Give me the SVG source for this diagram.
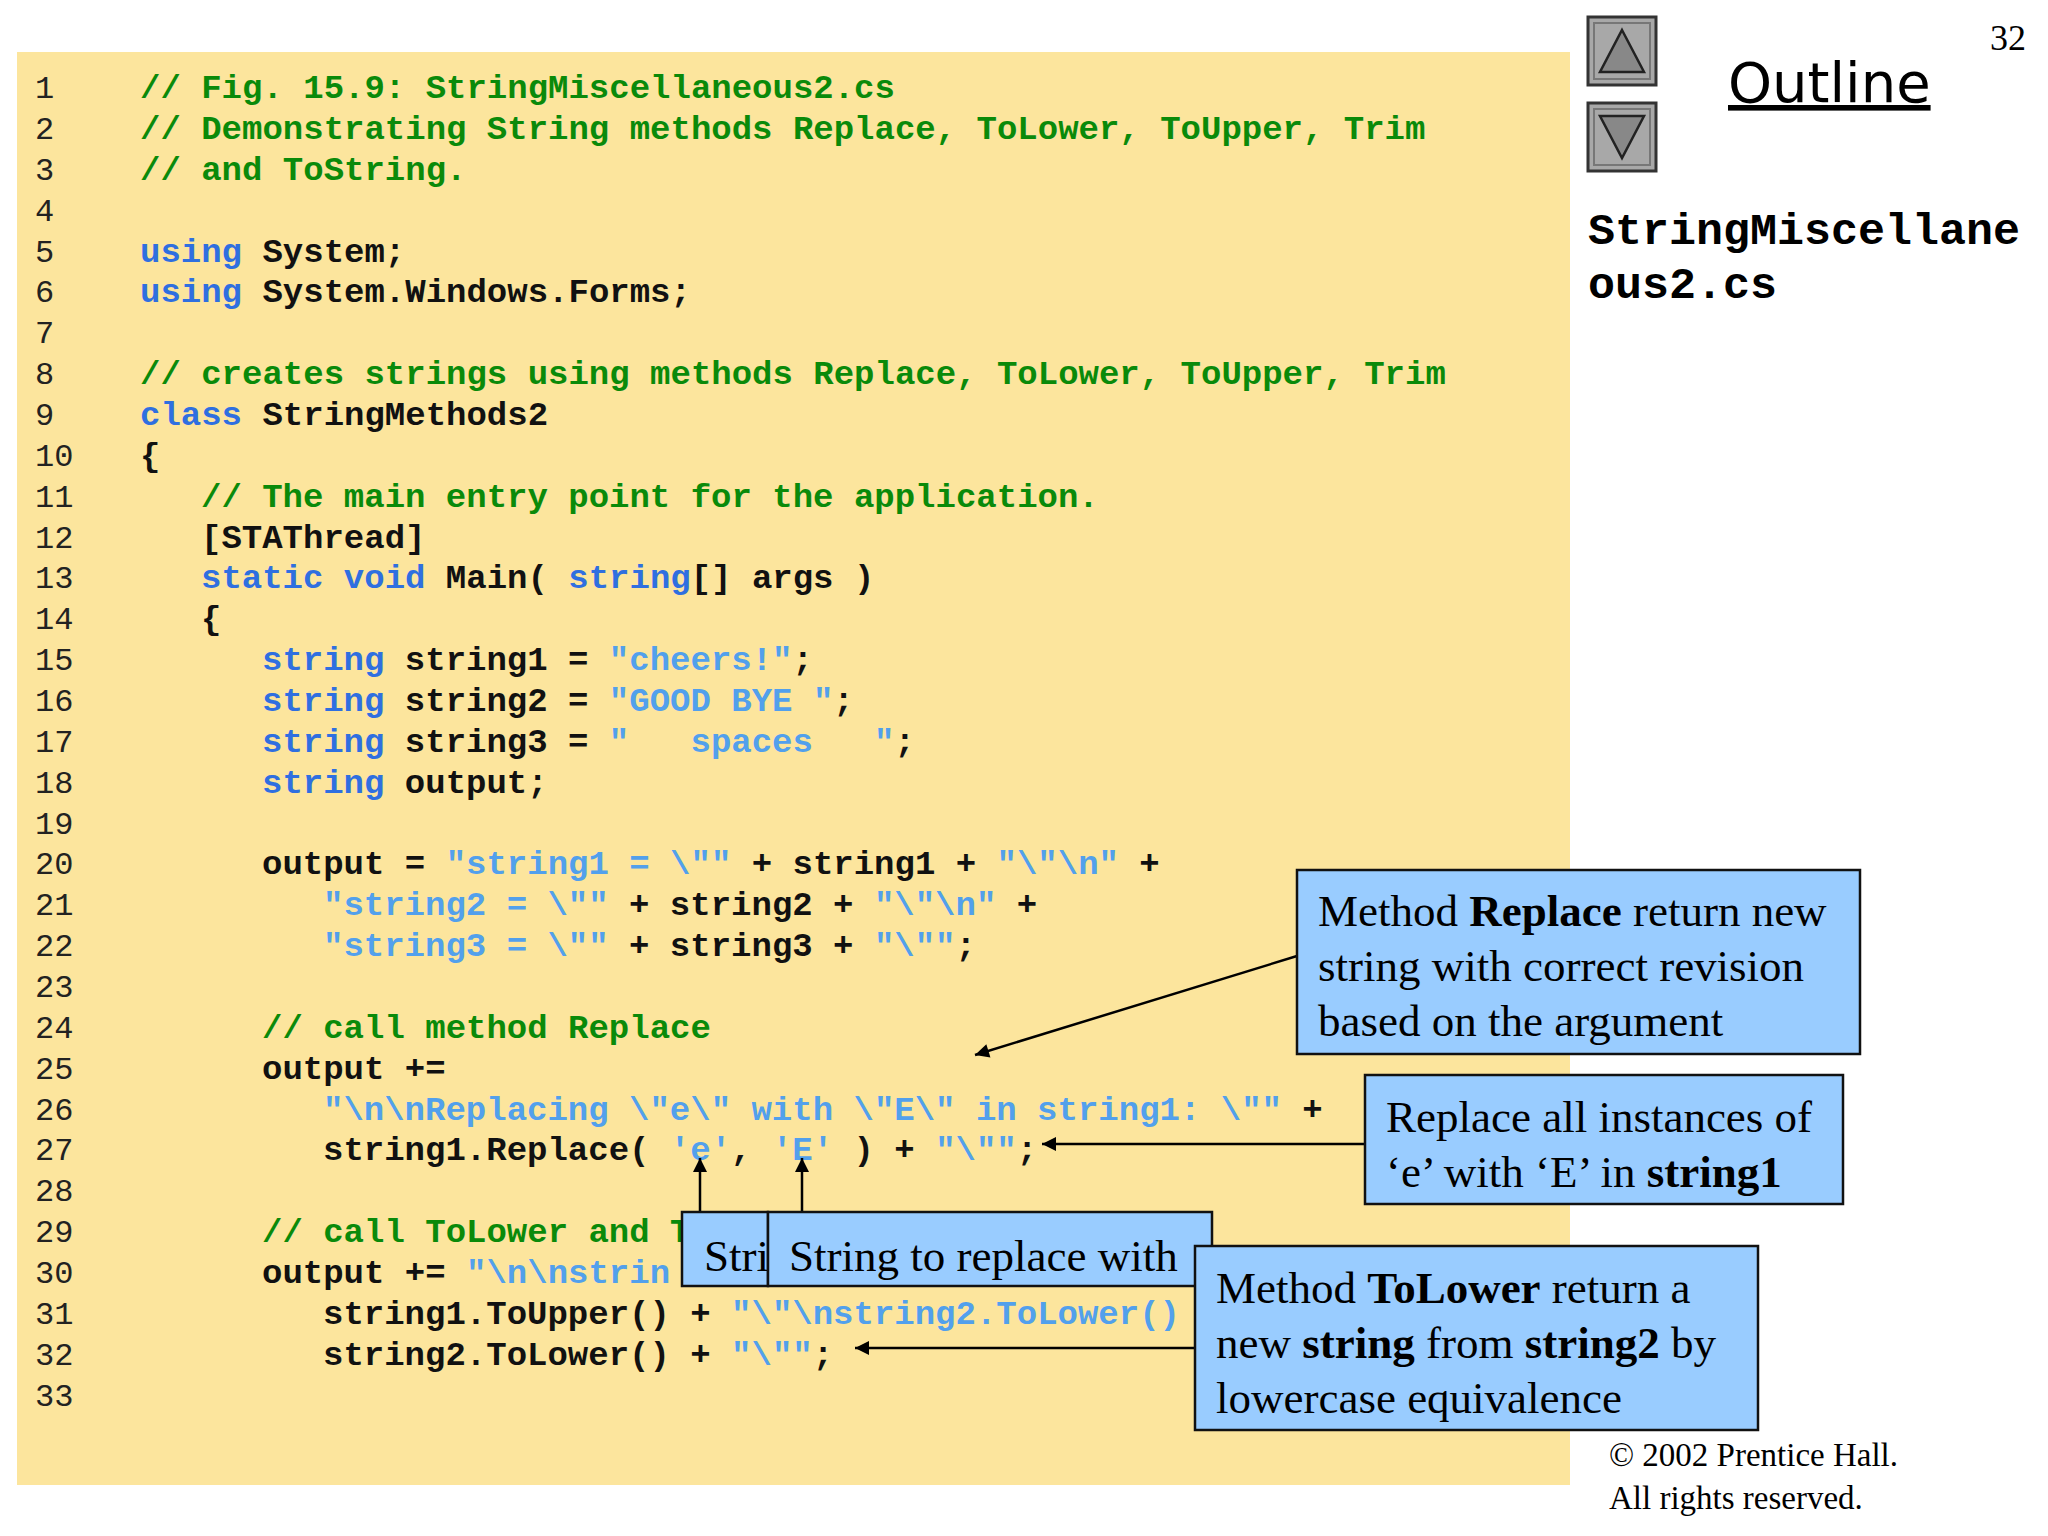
<svg xmlns="http://www.w3.org/2000/svg" width="2048" height="1536" viewBox="0 0 2048 1536" xml:space="preserve">
<style>
.code{font-family:"Liberation Mono","Courier New",monospace;font-size:34px;font-weight:bold;fill:#111;white-space:pre}
.ln{font-family:"Liberation Mono","Courier New",monospace;font-size:32px;fill:#222}
.c{fill:#0A8A0A}.k{fill:#2F6FE0}.s{fill:#52A0EC}
.box{fill:#99CCFF;stroke:#111;stroke-width:2.5}
.ct{font-family:"Liberation Serif","Times New Roman",serif;font-size:45px;fill:#000}
.cn{stroke:#000;stroke-width:2.5;fill:none;marker-end:url(#ah)}
</style>
<defs><marker id="ah" viewBox="0 0 10 10" refX="10" refY="5" markerWidth="7" markerHeight="7" orient="auto" markerUnits="userSpaceOnUse" style="overflow:visible"><path d="M0,0 L10,5 L0,10 z" fill="#000" transform="scale(2) translate(-5,-2.5)"/></marker></defs>
<rect width="2048" height="1536" fill="#fff"/>
<rect x="17" y="52" width="1553" height="1433" fill="#FCE59D"/>
<g id="linenumbers" class="ln">
<text x="35" y="98">1</text><text x="35" y="139">2</text><text x="35" y="180">3</text><text x="35" y="221">4</text><text x="35" y="262">5</text><text x="35" y="302">6</text><text x="35" y="343">7</text><text x="35" y="384">8</text><text x="35" y="425">9</text><text x="35" y="466">10</text><text x="35" y="507">11</text><text x="35" y="548">12</text><text x="35" y="588">13</text><text x="35" y="629">14</text><text x="35" y="670">15</text><text x="35" y="711">16</text><text x="35" y="752">17</text><text x="35" y="793">18</text><text x="35" y="834">19</text><text x="35" y="874">20</text><text x="35" y="915">21</text><text x="35" y="956">22</text><text x="35" y="997">23</text><text x="35" y="1038">24</text><text x="35" y="1079">25</text><text x="35" y="1120">26</text><text x="35" y="1160">27</text><text x="35" y="1201">28</text><text x="35" y="1242">29</text><text x="35" y="1283">30</text><text x="35" y="1324">31</text><text x="35" y="1365">32</text><text x="35" y="1406">33</text>
</g>
<g id="code" class="code">
<text x="140" y="98"><tspan class="c">// Fig. 15.9: StringMiscellaneous2.cs</tspan></text>
<text x="140" y="139"><tspan class="c">// Demonstrating String methods Replace, ToLower, ToUpper, Trim</tspan></text>
<text x="140" y="180"><tspan class="c">// and ToString.</tspan></text>
<text x="140" y="262"><tspan class="k">using</tspan> System;</text>
<text x="140" y="302"><tspan class="k">using</tspan> System.Windows.Forms;</text>
<text x="140" y="384"><tspan class="c">// creates strings using methods Replace, ToLower, ToUpper, Trim</tspan></text>
<text x="140" y="425"><tspan class="k">class</tspan> StringMethods2</text>
<text x="140" y="466">{</text>
<text x="201" y="507"><tspan class="c">// The main entry point for the application.</tspan></text>
<text x="201" y="548">[STAThread]</text>
<text x="201" y="588"><tspan class="k">static void</tspan> Main( <tspan class="k">string</tspan>[] args )</text>
<text x="201" y="629">{</text>
<text x="262" y="670"><tspan class="k">string</tspan> string1 = <tspan class="s">"cheers!"</tspan>;</text>
<text x="262" y="711"><tspan class="k">string</tspan> string2 = <tspan class="s">"GOOD BYE "</tspan>;</text>
<text x="262" y="752"><tspan class="k">string</tspan> string3 = <tspan class="s">"&#160;&#160;&#160;spaces&#160;&#160;&#160;"</tspan>;</text>
<text x="262" y="793"><tspan class="k">string</tspan> output;</text>
<text x="262" y="874">output = <tspan class="s">"string1 = \""</tspan> + string1 + <tspan class="s">"\"\n"</tspan> +</text>
<text x="323" y="915"><tspan class="s">"string2 = \""</tspan> + string2 + <tspan class="s">"\"\n"</tspan> +</text>
<text x="323" y="956"><tspan class="s">"string3 = \""</tspan> + string3 + <tspan class="s">"\""</tspan>;</text>
<text x="262" y="1038"><tspan class="c">// call method Replace</tspan></text>
<text x="262" y="1079">output +=</text>
<text x="323" y="1120"><tspan class="s">"\n\nReplacing \"e\" with \"E\" in string1: \""</tspan> +</text>
<text x="323" y="1160">string1.Replace( <tspan class="s">'e'</tspan>, <tspan class="s">'E'</tspan> ) + <tspan class="s">"\""</tspan>;</text>
<text x="262" y="1242"><tspan class="c">// call ToLower and T</tspan></text>
<text x="262" y="1283">output += <tspan class="s">"\n\nstrin</tspan></text>
<text x="323" y="1324">string1.ToUpper() + <tspan class="s">"\"\nstring2.ToLower()</tspan></text>
<text x="323" y="1365">string2.ToLower() + <tspan class="s">"\""</tspan>;</text>
</g>
<g id="nav">
<rect x="1588" y="17" width="68" height="68" fill="#A8A8A8" stroke="#333" stroke-width="3"/>
<rect x="1594" y="23" width="56" height="56" fill="none" stroke="#777" stroke-width="2"/>
<path d="M1622,30 L1644,72 L1600,72 Z" fill="#888" stroke="#222" stroke-width="2.5"/>
<rect x="1588" y="103" width="68" height="68" fill="#A8A8A8" stroke="#333" stroke-width="3"/>
<rect x="1594" y="109" width="56" height="56" fill="none" stroke="#777" stroke-width="2"/>
<path d="M1600,116 L1644,116 L1622,158 Z" fill="#888" stroke="#222" stroke-width="2.5"/>
</g>
<text x="1728" y="102" font-family="'DejaVu Sans',sans-serif" font-size="56" fill="#000" text-decoration="underline">Outline</text>
<text x="1990" y="50" font-family="'Liberation Serif',serif" font-size="36" fill="#000">32</text>
<text font-family="'Liberation Mono',monospace" font-weight="bold" font-size="45" fill="#000"><tspan x="1588" y="244">StringMiscellane</tspan><tspan x="1588" y="298">ous2.cs</tspan></text>
<text font-family="'Liberation Serif',serif" font-size="33" fill="#000"><tspan x="1609" y="1466">© 2002 Prentice Hall.</tspan><tspan x="1609" y="1509">All rights reserved.</tspan></text>
<g id="connectors">
<line class="cn" x1="1297" y1="956" x2="975" y2="1055"/>
<line class="cn" x1="1365" y1="1144" x2="1042" y2="1144"/>
<line class="cn" x1="700" y1="1212" x2="700" y2="1158"/>
<line class="cn" x1="802" y1="1212" x2="802" y2="1158"/>
<line class="cn" x1="1195" y1="1348" x2="855" y2="1348"/>
</g>
<g id="callout-replace"><rect class="box" x="1297" y="870" width="563" height="184"/>
<text class="ct"><tspan x="1318" y="926">Method <tspan font-weight="bold">Replace</tspan> return new</tspan><tspan x="1318" y="981">string with correct revision</tspan><tspan x="1318" y="1036">based on the argument</tspan></text></g>
<g id="callout-all"><rect class="box" x="1365" y="1075" width="478" height="129"/>
<text class="ct"><tspan x="1386" y="1132">Replace all instances of</tspan><tspan x="1386" y="1187">‘e’ with ‘E’ in <tspan font-weight="bold">string1</tspan></tspan></text></g>
<g id="callout-stri"><rect class="box" x="682" y="1212" width="86" height="74"/>
<text class="ct" x="704" y="1271">Stri</text></g>
<g id="callout-with"><rect class="box" x="768" y="1212" width="444" height="74"/>
<text class="ct" x="789" y="1271">String to replace with</text></g>
<g id="callout-tolower"><rect class="box" x="1195" y="1246" width="563" height="184"/>
<text class="ct"><tspan x="1216" y="1303">Method <tspan font-weight="bold">ToLower</tspan> return a</tspan><tspan x="1216" y="1358">new <tspan font-weight="bold">string</tspan> from <tspan font-weight="bold">string2</tspan> by</tspan><tspan x="1216" y="1413">lowercase equivalence</tspan></text></g>
</svg>
